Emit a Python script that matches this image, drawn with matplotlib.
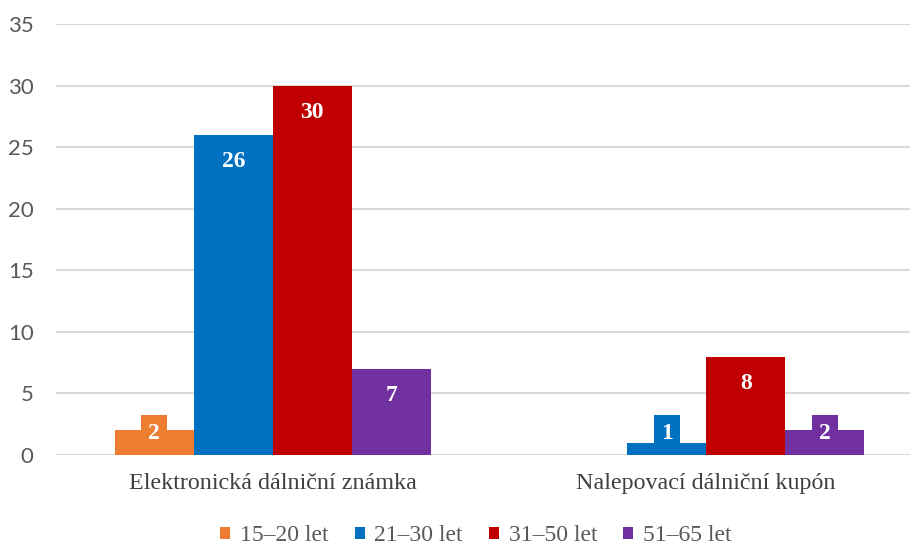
import matplotlib.pyplot as plt
import numpy as np

categories = ["Elektronická dálniční známka", "Nalepovací dálniční kupón"]
series_names = ["15–20 let", "21–30 let", "31–50 let", "51–65 let"]
values = [
    [2, 0],    # 15–20 let
    [26, 1],   # 21–30 let
    [30, 8],   # 31–50 let
    [7, 2],    # 51–65 let
]
colors = ["#ED7D31", "#0070C0", "#C00000", "#7030A0"]

fig = plt.figure(figsize=(9.1, 5.45), dpi=100)
ax = fig.add_axes([0.0615, 0.165, 0.9385, 0.791])

x = np.arange(len(categories))
width = 0.182
px = 35 / 431  # data units per pixel on y

for i, (name, vals, col) in enumerate(zip(series_names, values, colors)):
    pos = x + (i - 1.5) * width
    vals = np.array(vals, dtype=float)
    shown = vals > 0
    ax.bar(pos[shown], vals[shown], width, color=col, label=name, zorder=2)
    for p, v in zip(pos[shown], vals[shown]):
        y = max(v - 27 * px, 22 * px)
        ax.text(p, y, f"{int(v)}", ha="center", va="center", color="white",
                fontsize=17, fontweight="bold", family="Liberation Serif", zorder=3,
                bbox=dict(boxstyle="square,pad=0.3", facecolor=col, edgecolor="none"))

ax.set_ylim(0, 35)
ax.set_xlim(-0.5, 1.47)
ax.set_yticks(np.arange(0, 36, 5))
ax.yaxis.grid(True, color="#d9d9d9", linewidth=1.5, zorder=0)
ax.set_axisbelow(True)
for s in ax.spines.values():
    s.set_visible(False)
ax.axhline(0, color="#d9d9d9", linewidth=1.5, zorder=1)
ax.tick_params(axis="y", length=0, pad=16, labelsize=16, labelcolor="#595959")
for t in ax.get_yticklabels():
    t.set_family("Lato")
ax.set_xticks(x)
ax.set_xticklabels(categories, family="Liberation Serif", fontsize=17.3, color="#404040")
ax.tick_params(axis="x", length=0, pad=13)

fig.legend(loc="center", bbox_to_anchor=(0.523, 0.017), ncol=4, frameon=False,
           prop={"family": "Liberation Serif", "size": 17}, labelcolor="#595959",
           handlelength=0.42, handleheight=0.42, handletextpad=0.42, columnspacing=1.1)

fig.savefig("out.png", dpi=100)
